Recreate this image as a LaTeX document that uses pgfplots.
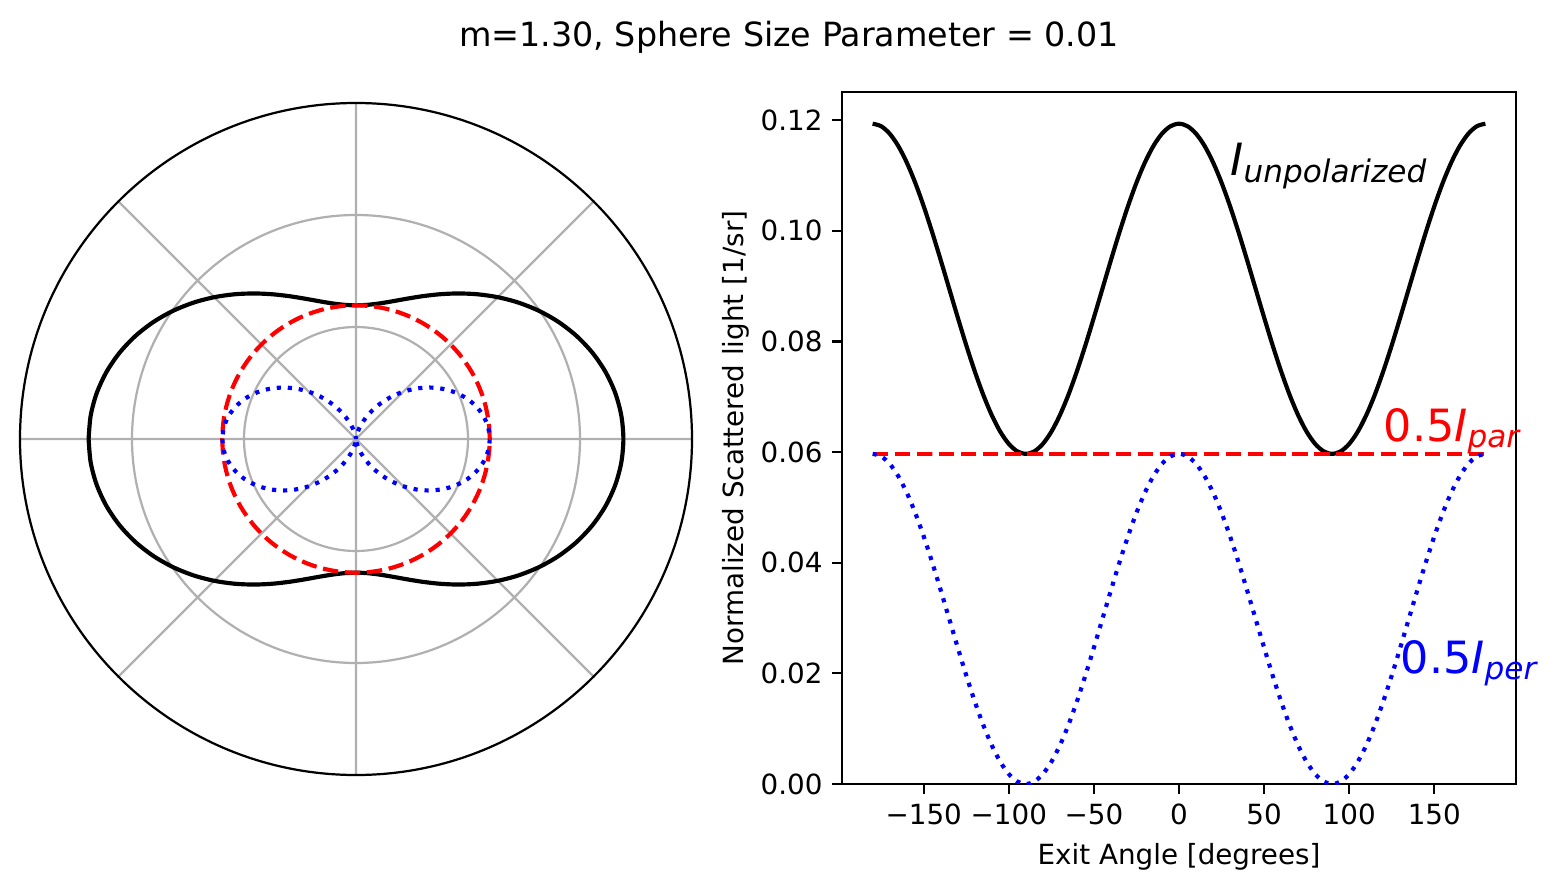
\documentclass[border=0pt]{standalone}
\usepackage{fontspec}
\setmainfont{DejaVu Sans}
\usepackage{pgfplots}
\usepackage{pgfplotstable}
\pgfplotsset{compat=1.18}
\usepgfplotslibrary{polar}

\pgfplotstableread{
ang per par unp
-180 0.059683 0.059683 0.119366
-175 0.059230 0.059683 0.118913
-170 0.057883 0.059683 0.117566
-165 0.055685 0.059683 0.115368
-160 0.052701 0.059683 0.112384
-155 0.049023 0.059683 0.108706
-150 0.044762 0.059683 0.104445
-145 0.040048 0.059683 0.099731
-140 0.035023 0.059683 0.094706
-135 0.029842 0.059683 0.089525
-130 0.024660 0.059683 0.084343
-125 0.019635 0.059683 0.079318
-120 0.014921 0.059683 0.074604
-115 0.010660 0.059683 0.070343
-110 0.006982 0.059683 0.066665
-105 0.003998 0.059683 0.063681
-100 0.001800 0.059683 0.061483
-95 0.000453 0.059683 0.060136
-90 0.000000 0.059683 0.059683
-85 0.000453 0.059683 0.060136
-80 0.001800 0.059683 0.061483
-75 0.003998 0.059683 0.063681
-70 0.006982 0.059683 0.066665
-65 0.010660 0.059683 0.070343
-60 0.014921 0.059683 0.074604
-55 0.019635 0.059683 0.079318
-50 0.024660 0.059683 0.084343
-45 0.029842 0.059683 0.089525
-40 0.035023 0.059683 0.094706
-35 0.040048 0.059683 0.099731
-30 0.044762 0.059683 0.104445
-25 0.049023 0.059683 0.108706
-20 0.052701 0.059683 0.112384
-15 0.055685 0.059683 0.115368
-10 0.057883 0.059683 0.117566
-5 0.059230 0.059683 0.118913
0 0.059683 0.059683 0.119366
5 0.059230 0.059683 0.118913
10 0.057883 0.059683 0.117566
15 0.055685 0.059683 0.115368
20 0.052701 0.059683 0.112384
25 0.049023 0.059683 0.108706
30 0.044762 0.059683 0.104445
35 0.040048 0.059683 0.099731
40 0.035023 0.059683 0.094706
45 0.029842 0.059683 0.089525
50 0.024660 0.059683 0.084343
55 0.019635 0.059683 0.079318
60 0.014921 0.059683 0.074604
65 0.010660 0.059683 0.070343
70 0.006982 0.059683 0.066665
75 0.003998 0.059683 0.063681
80 0.001800 0.059683 0.061483
85 0.000453 0.059683 0.060136
90 0.000000 0.059683 0.059683
95 0.000453 0.059683 0.060136
100 0.001800 0.059683 0.061483
105 0.003998 0.059683 0.063681
110 0.006982 0.059683 0.066665
115 0.010660 0.059683 0.070343
120 0.014921 0.059683 0.074604
125 0.019635 0.059683 0.079318
130 0.024660 0.059683 0.084343
135 0.029842 0.059683 0.089525
140 0.035023 0.059683 0.094706
145 0.040048 0.059683 0.099731
150 0.044762 0.059683 0.104445
155 0.049023 0.059683 0.108706
160 0.052701 0.059683 0.112384
165 0.055685 0.059683 0.115368
170 0.057883 0.059683 0.117566
175 0.059230 0.059683 0.118913
180 0.059683 0.059683 0.119366
}\rayleigh

\definecolor{mplgrid}{HTML}{B0B0B0}
\tikzset{
  unpstyle/.style={black, line width=1.5pt},
  parstyle/.style={red, line width=1.5pt, dash pattern=on 5.55pt off 2.4pt},
  perstyle/.style={blue, line width=1.5pt, dash pattern=on 1.5pt off 2.475pt},
}

\begin{document}
\begin{tikzpicture}
\useasboundingbox (0,0) rectangle (561.24pt,321.12pt);

\node[anchor=base, inner sep=0pt] at (284.04pt,304.2pt) {\fontsize{12}{14}\selectfont m=1.30, Sphere Size Parameter = 0.01};

\begin{polaraxis}[
  at={(128.16pt,163.08pt)}, anchor=center,
  scale only axis, width=241.92pt, height=241.92pt,
  xmin=0, xmax=360, ymin=0, ymax=0.15,
  xtick={0,45,90,135,180,225,270,315},
  ytick={0.05,0.1},
  xticklabels={}, yticklabels={},
  major tick length=0pt,
  grid=major,
  major grid style={mplgrid, line width=0.8pt},
  x axis line style={black, line width=0.8pt},
  y axis line style={draw=none},
]
\addplot[unpstyle, no markers, smooth] table[x=ang, y=unp] {\rayleigh};
\addplot[parstyle, no markers, smooth] table[x=ang, y=par] {\rayleigh};
\addplot[perstyle, no markers, smooth] table[x=ang, y=per] {\rayleigh};
\end{polaraxis}

\begin{axis}[
  at={(303.12pt,38.88pt)}, anchor=south west,
  scale only axis, width=242.64pt, height=249.12pt,
  xmin=-198, xmax=198, ymin=0, ymax=0.1251,
  xtick={-150,-100,-50,0,50,100,150},
  xticklabels={−150,−100,−50,0,50,100,150},
  ytick={0,0.02,0.04,0.06,0.08,0.1,0.12},
  yticklabels={0.00,0.02,0.04,0.06,0.08,0.10,0.12},
  tick align=outside, xtick pos=lower, ytick pos=left,
  major tick length=3.5pt,
  tick style={black, line width=0.8pt},
  axis line style={black, line width=0.8pt},
  ticklabel style={font=\fontsize{10}{12}\selectfont},
  clip mode=individual,
  xlabel={Exit Angle [degrees]},
  ylabel={Normalized Scattered light [1/sr]},
  xlabel style={at={(axis description cs:0.5,-0.117)}, anchor=base, inner sep=0pt, font=\fontsize{10}{12}\selectfont},
  ylabel style={at={(axis description cs:-0.1456,0.5)}, anchor=base, inner sep=0pt, font=\fontsize{10}{12}\selectfont},
]
\addplot[unpstyle, no markers, smooth] table[x=ang, y=unp] {\rayleigh};
\addplot[parstyle, no markers] table[x=ang, y=par] {\rayleigh};
\addplot[perstyle, no markers, smooth] table[x=ang, y=per] {\rayleigh};
\node[anchor=base west, inner sep=0pt, text=black] at (axis cs:30,0.11) {\fontsize{16}{19}\selectfont\textit{I}\raisebox{-2.4pt}{\fontsize{11.2}{13}\selectfont\itshape unpolarized}};
\node[anchor=base west, inner sep=0pt, text=red] at (axis cs:120,0.062) {\fontsize{16}{19}\selectfont 0.5\textit{I}\raisebox{-2.3pt}{\fontsize{11.2}{13}\selectfont\itshape par}};
\node[anchor=base west, inner sep=0pt, text=blue] at (axis cs:130,0.02) {\fontsize{16}{19}\selectfont 0.5\textit{I}\raisebox{-2.3pt}{\fontsize{11.2}{13}\selectfont\itshape per}};
\end{axis}
\end{tikzpicture}
\end{document}
